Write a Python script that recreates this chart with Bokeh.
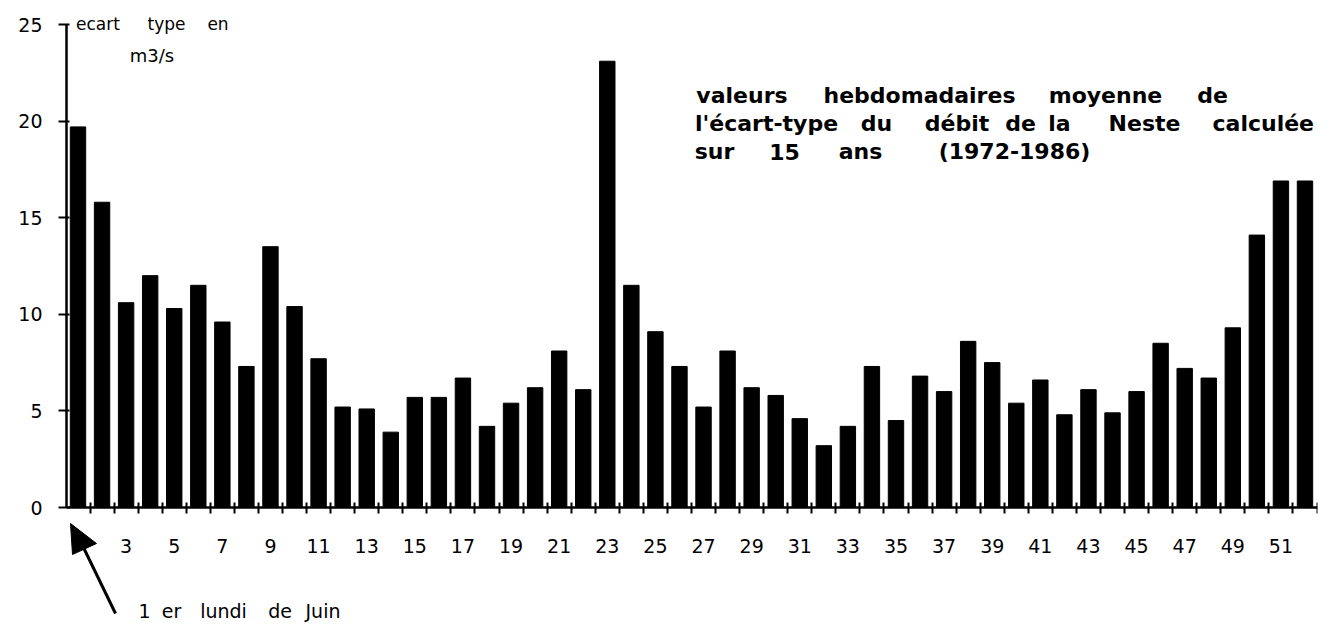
from bokeh.plotting import figure
from bokeh.models import Range1d, FixedTicker, Label, Arrow, PolyAnnotation
from bokeh.embed import file_html
from bokeh.resources import INLINE

# ---- data ----
weeks = list(range(1, 53))
ecart_type = [19.7, 15.8, 10.6, 12.0, 10.3, 11.5, 9.6, 7.3, 13.5, 10.4,
              7.7, 5.2, 5.1, 3.9, 5.7, 5.7, 6.7, 4.2, 5.4, 6.2,
              8.1, 6.1, 23.1, 11.5, 9.1, 7.3, 5.2, 8.1, 6.2, 5.8,
              4.6, 3.2, 4.2, 7.3, 4.5, 6.8, 6.0, 8.6, 7.5, 5.4,
              6.6, 4.8, 6.1, 4.9, 6.0, 8.5, 7.2, 6.7, 9.3, 14.1,
              16.9, 16.9]
y_ticks = [0, 5, 10, 15, 20, 25]
x_label_weeks = list(range(3, 53, 2))
x_boundaries = [w - 0.5 for w in weeks] + [52.5]

FONT = "DejaVu Sans"

W, H = 1324, 626
LEFT, RIGHT, TOP, BOTTOM = 66, 7, 0, 0
BASE = 507                      # canvas row of the zero line
TOP25 = 24                      # canvas row of the value 25
SCALE = (BASE - TOP25) / 25.0   # pixels per unit
X0, X1 = 0.522, 52.52
Y1 = (BASE - TOP) / SCALE
Y0 = -(H - BOTTOM - BASE) / SCALE

p = figure(width=W, height=H, x_range=Range1d(X0, X1), y_range=Range1d(Y0, Y1),
           output_backend="svg", toolbar_location=None,
           min_border_left=LEFT, min_border_right=RIGHT,
           min_border_top=TOP, min_border_bottom=BOTTOM)
p.outline_line_color = None
p.xgrid.visible = False
p.ygrid.visible = False
p.background_fill_color = "white"

p.vbar(x=weeks, top=ecart_type, width=0.64, bottom=0,
       fill_color="black", line_color="black")

# y axis
ya = p.yaxis[0]
ya.ticker = FixedTicker(ticks=y_ticks)
ya.bounds = (0, 25)
ya.axis_line_width = 2.5
ya.axis_line_color = "black"
ya.major_tick_out = 8
ya.major_tick_in = 3
ya.major_tick_line_width = 2
ya.minor_tick_out = 0
ya.minor_tick_in = 0
ya.major_label_standoff = 16
ya.major_label_text_font = FONT
ya.major_label_text_font_size = "19px"
ya.major_label_text_color = "black"

# x axis, sitting on the zero line
xa = p.xaxis[0]
xa.fixed_location = 0
xa.ticker = FixedTicker(ticks=x_label_weeks, minor_ticks=x_boundaries)
xa.axis_line_width = 2.5
xa.axis_line_color = "black"
xa.major_tick_out = 0
xa.major_tick_in = 0
xa.minor_tick_out = 6
xa.minor_tick_in = 5
xa.minor_tick_line_width = 2
xa.minor_tick_line_color = "black"
xa.major_label_standoff = 25
xa.major_label_text_font = FONT
xa.major_label_text_font_size = "19px"
xa.major_label_text_color = "black"

# canvas-pixel helpers for annotation placement
FW = W - LEFT - RIGHT
FH = H - TOP - BOTTOM
def px(xp):
    return X0 + (xp - LEFT) * (X1 - X0) / FW
def py(yp):
    return Y0 + (TOP + FH - yp) * (Y1 - Y0) / FH

def words(items, baseline, size, bold=False, align="center"):
    for txt, xc in items:
        p.add_layout(Label(x=px(xc), y=py(baseline), text=txt,
                           text_font=FONT, text_font_size=size,
                           text_font_style="bold" if bold else "normal",
                           text_align=align, text_baseline="alphabetic",
                           text_color="black"))

# y axis title
words([("ecart", 97.5), ("type", 166), ("en", 217.5)], 23, "17px")
words([("m3/s", 151.5)], 55, "18px")

# chart title
words([("valeurs", 741.5), ("hebdomadaires", 919), ("moyenne", 1105), ("de", 1212)],
      95, "22px", bold=True)
words([("l'écart-type", 766), ("du", 876), ("débit", 956.5), ("de", 1020),
       ("la", 1059), ("Neste", 1144)], 123, "22px", bold=True)
words([("calculée", 1212)], 123, "22px", bold=True, align="left")
words([("sur", 714), ("15", 784), ("ans", 860), ("(1972-1986)", 1014)],
      151, "22px", bold=True)

# annotation arrow
words([("1", 144), ("er", 171), ("lundi", 223), ("de", 279.5), ("Juin", 322.5)],
      610, "19px")
p.add_layout(Arrow(end=None, x_start=px(115), y_start=py(613),
                   x_end=px(82), y_end=py(545), line_width=3, line_color="black"))
p.add_layout(PolyAnnotation(xs=[px(70), px(96), px(72)], ys=[py(523), py(543), py(554)],
                            fill_color="black", fill_alpha=1.0, line_color="black",
                            line_alpha=1.0))

open("out.html", "w").write(file_html(p, INLINE))
